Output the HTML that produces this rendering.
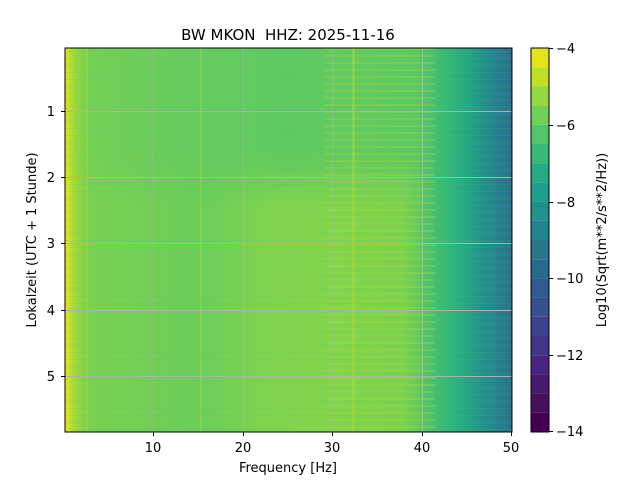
<!DOCTYPE html>
<html><head><meta charset="utf-8"><style>
body{margin:0;background:#fff;}
svg text{font-family:"DejaVu Sans","Liberation Sans",sans-serif;fill:#000;}
</style></head><body>
<svg width="640" height="480" viewBox="0 0 640 480" xmlns="http://www.w3.org/2000/svg">
<defs>
<linearGradient id="gt" x1="0" x2="1" y1="0" y2="0">
<stop offset="0" stop-color="#e8e419"/>
<stop offset="0.02" stop-color="#9bd93c"/>
<stop offset="0.05" stop-color="#74d055"/>
<stop offset="0.3" stop-color="#65cb5e"/>
<stop offset="0.5" stop-color="#5ec962"/>
<stop offset="0.65" stop-color="#62ca5f"/>
<stop offset="0.78" stop-color="#5ec962"/>
<stop offset="0.84" stop-color="#3fbc73"/>
<stop offset="0.9" stop-color="#25a883"/>
<stop offset="0.95" stop-color="#23898e"/>
<stop offset="1" stop-color="#2d6f8e"/>
</linearGradient>
<linearGradient id="gb" x1="0" x2="1" y1="0" y2="0">
<stop offset="0" stop-color="#ece51b"/>
<stop offset="0.02" stop-color="#a2da37"/>
<stop offset="0.05" stop-color="#7ad151"/>
<stop offset="0.3" stop-color="#6ccd5a"/>
<stop offset="0.45" stop-color="#80d34d"/>
<stop offset="0.6" stop-color="#84d44b"/>
<stop offset="0.76" stop-color="#7ed24e"/>
<stop offset="0.82" stop-color="#4ac16d"/>
<stop offset="0.88" stop-color="#2ab07f"/>
<stop offset="0.94" stop-color="#21918c"/>
<stop offset="1" stop-color="#2c728e"/>
</linearGradient>
<linearGradient id="fade" x1="0" x2="0" y1="0" y2="1">
<stop offset="0" stop-color="#fff" stop-opacity="0"/>
<stop offset="1" stop-color="#fff" stop-opacity="1"/>
</linearGradient>
<mask id="m"><rect x="65" y="150" width="447" height="60" fill="url(#fade)"/><rect x="65" y="210" width="447" height="222" fill="#fff"/></mask>
<pattern id="stripes" width="447" height="7" patternUnits="userSpaceOnUse" x="65" y="48">
<rect x="260" y="0" width="110" height="2" fill="#9ad93e" opacity="0.35"/>
<rect x="0" y="3" width="447" height="1" fill="#4ec36b" opacity="0.15"/>
</pattern>
</defs>
<rect x="65" y="48" width="447" height="384" fill="url(#gt)"/>
<rect x="65" y="48" width="447" height="384" fill="url(#gb)" mask="url(#m)"/>
<rect x="65" y="48" width="447" height="384" fill="url(#stripes)"/>
<rect x="200" y="48" width="2" height="384" fill="#9ad93e" opacity="0.5"/>
<rect x="352" y="48" width="3" height="384" fill="#a5db36" opacity="0.5"/>
<rect x="86" y="48" width="2" height="384" fill="#a5db36" opacity="0.5"/>
<g stroke="#b0b0b0" stroke-width="1">
<line x1="153.5" y1="48" x2="153.5" y2="432" opacity="0.6"/>
<line x1="243.5" y1="48" x2="243.5" y2="432" opacity="0.6"/>
<line x1="332.5" y1="48" x2="332.5" y2="432" opacity="0.6"/>
<line x1="422.5" y1="48" x2="422.5" y2="432"/>
<line x1="65" y1="111.5" x2="512" y2="111.5"/>
<line x1="65" y1="177.5" x2="512" y2="177.5"/>
<line x1="65" y1="243.5" x2="512" y2="243.5"/>
<line x1="65" y1="310.5" x2="512" y2="310.5"/>
<line x1="65" y1="376.5" x2="512" y2="376.5"/>
</g>
<rect x="65" y="48" width="447" height="384" fill="none" stroke="#000" stroke-width="1"/>
<g stroke="#000">
<line x1="153.5" y1="432" x2="153.5" y2="436"/><line x1="243.5" y1="432" x2="243.5" y2="436"/>
<line x1="332.5" y1="432" x2="332.5" y2="436"/><line x1="422.5" y1="432" x2="422.5" y2="436"/>
<line x1="511.5" y1="432" x2="511.5" y2="436"/>
<line x1="61" y1="111.5" x2="65" y2="111.5"/><line x1="61" y1="177.5" x2="65" y2="177.5"/>
<line x1="61" y1="243.5" x2="65" y2="243.5"/><line x1="61" y1="310.5" x2="65" y2="310.5"/>
<line x1="61" y1="376.5" x2="65" y2="376.5"/>
</g>
<g font-size="13" text-anchor="middle">
<text x="153" y="452">10</text><text x="243" y="452">20</text><text x="332" y="452">30</text>
<text x="422" y="452">40</text><text x="511" y="452">50</text>
</g>
<g font-size="13" text-anchor="end">
<text x="55" y="116">1</text><text x="55" y="182">2</text><text x="55" y="248">3</text>
<text x="55" y="315">4</text><text x="55" y="381">5</text>
</g>
<text x="288" y="472" font-size="13" text-anchor="middle">Frequency [Hz]</text>
<text x="36" y="240" font-size="13" text-anchor="middle" transform="rotate(-90 36 240)">Lokalzeit (UTC + 1 Stunde)</text>
<text x="288" y="40" font-size="15" text-anchor="middle" xml:space="preserve">BW MKON&#160; HHZ: 2025-11-16</text>
<g>
<rect x="531" y="48" width="18" height="19.2" fill="#e5e419"/>
<rect x="531" y="67.2" width="18" height="19.2" fill="#bddf26"/>
<rect x="531" y="86.4" width="18" height="19.2" fill="#95d840"/>
<rect x="531" y="105.6" width="18" height="19.2" fill="#70cf57"/>
<rect x="531" y="124.8" width="18" height="19.2" fill="#52c569"/>
<rect x="531" y="144" width="18" height="19.2" fill="#37b878"/>
<rect x="531" y="163.2" width="18" height="19.2" fill="#25ab82"/>
<rect x="531" y="182.4" width="18" height="19.2" fill="#1f9e89"/>
<rect x="531" y="201.6" width="18" height="19.2" fill="#1f908d"/>
<rect x="531" y="220.8" width="18" height="19.2" fill="#21838e"/>
<rect x="531" y="240" width="18" height="19.2" fill="#26768e"/>
<rect x="531" y="259.2" width="18" height="19.2" fill="#2a698e"/>
<rect x="531" y="278.4" width="18" height="19.2" fill="#2f5c8e"/>
<rect x="531" y="297.6" width="18" height="19.2" fill="#35508d"/>
<rect x="531" y="316.8" width="18" height="19.2" fill="#3b428b"/>
<rect x="531" y="336" width="18" height="19.2" fill="#423486"/>
<rect x="531" y="355.2" width="18" height="19.2" fill="#472680"/>
<rect x="531" y="374.4" width="18" height="19.2" fill="#481a6c"/>
<rect x="531" y="393.6" width="18" height="19.2" fill="#470f5f"/>
<rect x="531" y="412.8" width="18" height="19.2" fill="#440154"/>
</g>
<rect x="531" y="48" width="18" height="384" fill="none" stroke="#000"/>
<g stroke="#000">
<line x1="549" y1="48.5" x2="553" y2="48.5"/><line x1="549" y1="125.5" x2="553" y2="125.5"/>
<line x1="549" y1="202.5" x2="553" y2="202.5"/><line x1="549" y1="278.5" x2="553" y2="278.5"/>
<line x1="549" y1="355.5" x2="553" y2="355.5"/><line x1="549" y1="431.5" x2="553" y2="431.5"/>
</g>
<g font-size="13">
<text x="556" y="53">−4</text><text x="556" y="130">−6</text><text x="556" y="207">−8</text>
<text x="556" y="283">−10</text><text x="556" y="360">−12</text><text x="556" y="436">−14</text>
</g>
<text x="606" y="240" font-size="13" text-anchor="middle" transform="rotate(-90 606 240)">Log10(Sqrt(m**2/s**2/Hz))</text>
</svg>
</body></html>
